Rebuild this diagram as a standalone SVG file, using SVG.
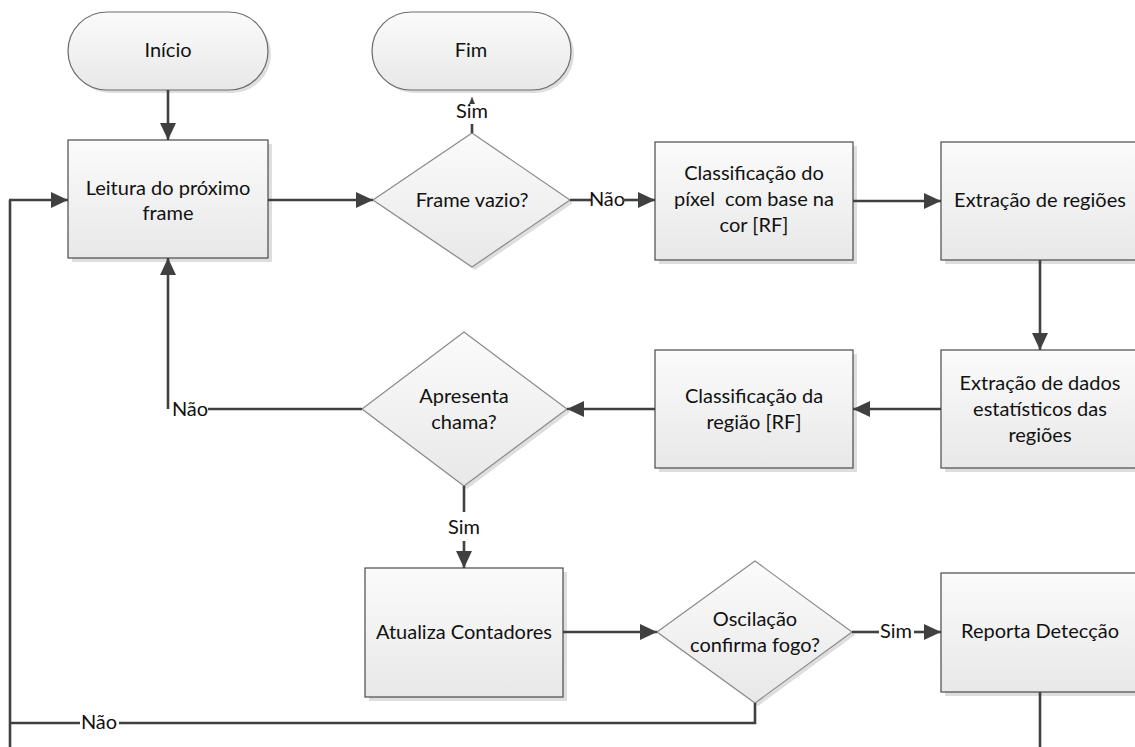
<svg xmlns="http://www.w3.org/2000/svg" width="1135" height="747" viewBox="0 0 1135 747">
<defs>
<linearGradient id="gBox" x1="0" y1="0" x2="0" y2="1">
<stop offset="0" stop-color="#fbfbfb"/>
<stop offset="1" stop-color="#e8e8e8"/>
</linearGradient>
<marker id="arr" viewBox="0 0 18 18" refX="17" refY="9" markerWidth="18" markerHeight="18" markerUnits="userSpaceOnUse" orient="auto">
<path d="M0,1 L17,9 L0,17 z" fill="#404040"/>
</marker>
<marker id="arrS" viewBox="0 0 8 8" refX="7" refY="4" markerWidth="8" markerHeight="8" markerUnits="userSpaceOnUse" orient="auto">
<path d="M0,1 L7,4 L0,7 z" fill="#404040"/>
</marker>
</defs>
<style>
.box{fill:url(#gBox);stroke:#4a4a4a;stroke-width:1.2}
.dia{fill:url(#gBox);stroke:#8a8a8a;stroke-width:1.2}
.term{fill:url(#gBox);stroke:#6a6a6a;stroke-width:1.2}
.sh{fill:#dedede}
.t{font-family:Lato,"Liberation Sans",sans-serif;font-size:20px;fill:#111;text-anchor:middle}
.c{fill:none;stroke:#404040;stroke-width:2.6}
.ca{fill:none;stroke:#404040;stroke-width:2.6;marker-end:url(#arr)}
</style>
<rect width="1135" height="747" fill="#ffffff"/>

<g id="inicio">
<rect class="sh" x="71" y="15" width="200" height="78" rx="39"/>
<rect class="term" x="68" y="12" width="200" height="78" rx="39"/>
<text class="t" x="168" y="57">Início</text>
</g>
<g id="fim">
<rect class="sh" x="375" y="15" width="199" height="78" rx="39"/>
<rect class="term" x="372" y="12" width="199" height="78" rx="39"/>
<text class="t" x="471" y="57">Fim</text>
</g>
<g id="leitura">
<rect class="sh" x="72" y="144" width="200" height="118"/>
<rect class="box" x="68" y="140" width="200" height="118"/>
<text class="t" x="168" y="195">Leitura do próximo</text>
<text class="t" x="168" y="220">frame</text>
</g>
<g id="frame-vazio">
<polygon class="sh" points="475,136 573,203 475,270 376,203"/>
<polygon class="dia" points="472,133 570,200 472,267 373,200"/>
<text class="t" x="472" y="207">Frame vazio?</text>
</g>
<g id="classif-pixel">
<rect class="sh" x="659" y="146" width="198" height="118"/>
<rect class="box" x="655" y="142" width="198" height="118"/>
<text class="t" x="754" y="180">Classificação do</text>
<text class="t" x="754" y="206" xml:space="preserve">píxel  com base na</text>
<text class="t" x="754" y="232">cor [RF]</text>
</g>
<g id="extracao-regioes">
<rect class="sh" x="945" y="146" width="198" height="118"/>
<rect class="box" x="941" y="142" width="198" height="118"/>
<text class="t" x="1040" y="207">Extração de regiões</text>
</g>
<g id="extracao-dados">
<rect class="sh" x="945" y="354" width="198" height="118"/>
<rect class="box" x="941" y="350" width="198" height="118"/>
<text class="t" x="1040" y="390">Extração de dados</text>
<text class="t" x="1040" y="416">estatísticos das</text>
<text class="t" x="1040" y="442">regiões</text>
</g>
<g id="classif-regiao">
<rect class="sh" x="659" y="354" width="198" height="118"/>
<rect class="box" x="655" y="350" width="198" height="118"/>
<text class="t" x="754" y="403">Classificação da</text>
<text class="t" x="754" y="429">região [RF]</text>
</g>
<g id="apresenta-chama">
<polygon class="sh" points="467,335 570,412 467,489 365,412"/>
<polygon class="dia" points="464,332 567,409 464,486 362,409"/>
<text class="t" x="464" y="403">Apresenta</text>
<text class="t" x="464" y="429">chama?</text>
</g>
<g id="atualiza">
<rect class="sh" x="369" y="572" width="198" height="129"/>
<rect class="box" x="365" y="568" width="198" height="129"/>
<text class="t" x="464" y="639">Atualiza Contadores</text>
</g>
<g id="oscilacao">
<polygon class="sh" points="758,564 855,635 758,706 660,635"/>
<polygon class="dia" points="755,561 852,632 755,703 657,632"/>
<text class="t" x="755" y="626">Oscilação</text>
<text class="t" x="755" y="652">confirma fogo?</text>
</g>
<g id="reporta">
<rect class="sh" x="945" y="577" width="198" height="119"/>
<rect class="box" x="941" y="573" width="198" height="119"/>
<text class="t" x="1040" y="638">Reporta Detecção</text>
</g>

<g id="connectors">
<line class="ca" x1="168" y1="90" x2="168" y2="140"/>
<line class="ca" x1="268" y1="200" x2="373" y2="200"/>
<line class="c" x1="472" y1="133" x2="472" y2="124"/>
<text class="t" x="472" y="118">Sim</text>
<line class="c" x1="472" y1="98" x2="472" y2="97" style="stroke-width:1;marker-end:url(#arrS)"/>
<line class="c" x1="570" y1="200" x2="591" y2="200"/>
<text class="t" x="607" y="206">Não</text>
<line class="ca" x1="623" y1="200" x2="655" y2="200"/>
<line class="ca" x1="853" y1="201" x2="941" y2="201"/>
<line class="ca" x1="1040" y1="260" x2="1040" y2="350"/>
<line class="ca" x1="941" y1="409" x2="853" y2="409"/>
<line class="ca" x1="655" y1="409" x2="567" y2="409"/>
<polyline class="c" points="362,409 208,409"/>
<text class="t" x="190" y="416">Não</text>
<line class="ca" x1="168" y1="409" x2="168" y2="258"/>
<line class="c" x1="464" y1="486" x2="464" y2="512"/>
<text class="t" x="464" y="534">Sim</text>
<line class="ca" x1="464" y1="541" x2="464" y2="568"/>
<line class="ca" x1="563" y1="632" x2="657" y2="632"/>
<line class="c" x1="852" y1="632" x2="879" y2="632"/>
<text class="t" x="896" y="638">Sim</text>
<line class="ca" x1="914" y1="632" x2="941" y2="632"/>
<polyline class="c" points="755,703 755,723 119,723"/>
<text class="t" x="99" y="729">Não</text>
<line class="c" x1="80" y1="723" x2="10" y2="723"/>
<line class="c" x1="10" y1="747" x2="10" y2="200"/>
<line class="ca" x1="9" y1="200" x2="68" y2="200"/>
<line class="c" x1="1040" y1="692" x2="1040" y2="747"/>
</g>
</svg>
